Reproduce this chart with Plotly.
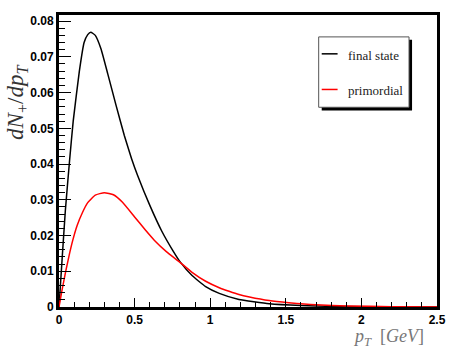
import plotly.graph_objects as go

# final state spectrum (black)
final_pt = [0, 0.02, 0.042, 0.07, 0.094, 0.134, 0.166, 0.19, 0.21, 0.24, 0.278, 0.322,
            0.377, 0.432, 0.48, 0.52, 0.6, 0.68, 0.75, 0.8, 0.88, 0.97, 1.06, 1.19, 1.39,
            1.6, 1.8, 2.0, 2.5]
final_dn = [0, 0.013, 0.027, 0.041, 0.052, 0.0658, 0.0740, 0.0762, 0.0769, 0.0760,
            0.0722, 0.0653, 0.0565, 0.0480, 0.0415, 0.0368, 0.0285, 0.0212, 0.0160,
            0.0127, 0.0088, 0.0057, 0.0038, 0.0021, 0.0009, 0.0004, 0.00017, 0.00007, 0]

# primordial spectrum (red)
prim_pt = [0, 0.02, 0.046, 0.07, 0.09, 0.12, 0.156, 0.19, 0.24, 0.3, 0.36, 0.42, 0.5,
           0.57, 0.63, 0.71, 0.8, 0.88, 0.97, 1.06, 1.125, 1.19, 1.26, 1.39, 1.52, 1.7,
           1.91, 2.2, 2.5]
prim_dn = [0, 0.0047, 0.0103, 0.0150, 0.0185, 0.0228, 0.0265, 0.0292, 0.0313, 0.0320,
           0.0314, 0.0293, 0.0252, 0.0216, 0.0187, 0.0155, 0.0125, 0.0097, 0.0072,
           0.0054, 0.0044, 0.0035, 0.0028, 0.0018, 0.0012, 0.0006, 0.0003, 0.0001, 0.00002]

legend_labels = ["final state", "primordial"]
colors = ["black", "#ff0000"]

fig = go.Figure()
fig.add_trace(go.Scatter(x=final_pt, y=final_dn, mode="lines", name=legend_labels[0],
                         line=dict(color=colors[0], width=1.5, shape="spline", smoothing=0.4),
                         showlegend=False))
fig.add_trace(go.Scatter(x=prim_pt, y=prim_dn, mode="lines", name=legend_labels[1],
                         line=dict(color=colors[1], width=1.5, shape="spline", smoothing=0.4),
                         showlegend=False))

tick_font = dict(family="Liberation Sans", size=12, color="black", weight="bold")

fig.update_xaxes(range=[0, 2.5], dtick=0.5, ticks="inside", ticklen=9, tickwidth=1,
                 tickcolor="black", showline=True, linewidth=3, linecolor="black",
                 mirror=True, showgrid=False, zeroline=False, tickfont=tick_font,
                 minor=dict(dtick=0.1, ticks="inside", ticklen=5, tickcolor="black"))
fig.update_yaxes(range=[0, 0.0817], dtick=0.01, ticks="inside", ticklen=12, tickwidth=1,
                 tickcolor="black", showline=True, linewidth=3, linecolor="black",
                 mirror=True, showgrid=False, zeroline=False, tickfont=tick_font,
                 minor=dict(dtick=0.002, ticks="inside", ticklen=6, tickcolor="black"))

# hand-made ROOT style legend box with shadow
fig.add_shape(type="rect", xref="paper", yref="paper", x0=0.695, x1=0.934, y0=0.673,
              y1=0.915, fillcolor="black", line=dict(width=0))
fig.add_shape(type="rect", xref="paper", yref="paper", x0=0.687, x1=0.926, y0=0.684,
              y1=0.925, fillcolor="white", line=dict(color="#555555", width=1))
for yy, col, lab in [(0.867, colors[0], legend_labels[0]), (0.745, colors[1], legend_labels[1])]:
    fig.add_shape(type="line", xref="paper", yref="paper", x0=0.695, x1=0.737, y0=yy, y1=yy,
                  line=dict(color=col, width=1.5))
    fig.add_annotation(x=0.758, y=yy - 0.004, xref="paper", yref="paper", text=lab,
                       showarrow=False, xanchor="left", yanchor="middle",
                       font=dict(family="Liberation Serif", size=13, color="#222222"))

# axis titles
fig.add_annotation(x=-0.113, y=0.70, xref="paper", yref="paper", textangle=-90,
                   text="<i>dN</i><sub>+</sub>/<i>dp</i><sub><i>T</i></sub>",
                   showarrow=False, xanchor="center", yanchor="middle",
                   font=dict(family="Liberation Serif", size=23, color="#333333"))
fig.add_annotation(x=0.972, y=-0.104, xref="paper", yref="paper",
                   text="<i>p</i><sub><i>T</i></sub>  [<i>GeV</i>]",
                   showarrow=False, xanchor="right", yanchor="middle",
                   font=dict(family="Liberation Serif", size=18, color="#777777"))

fig.update_layout(width=458, height=354, margin=dict(l=59, r=19, t=13, b=47),
                  paper_bgcolor="white", plot_bgcolor="white", showlegend=False)

# drop the browser's default body margin so the figure sits at the page corner
fig.write_html("out.html", config={"displayModeBar": False},
               post_script="document.body.style.margin='0';")
